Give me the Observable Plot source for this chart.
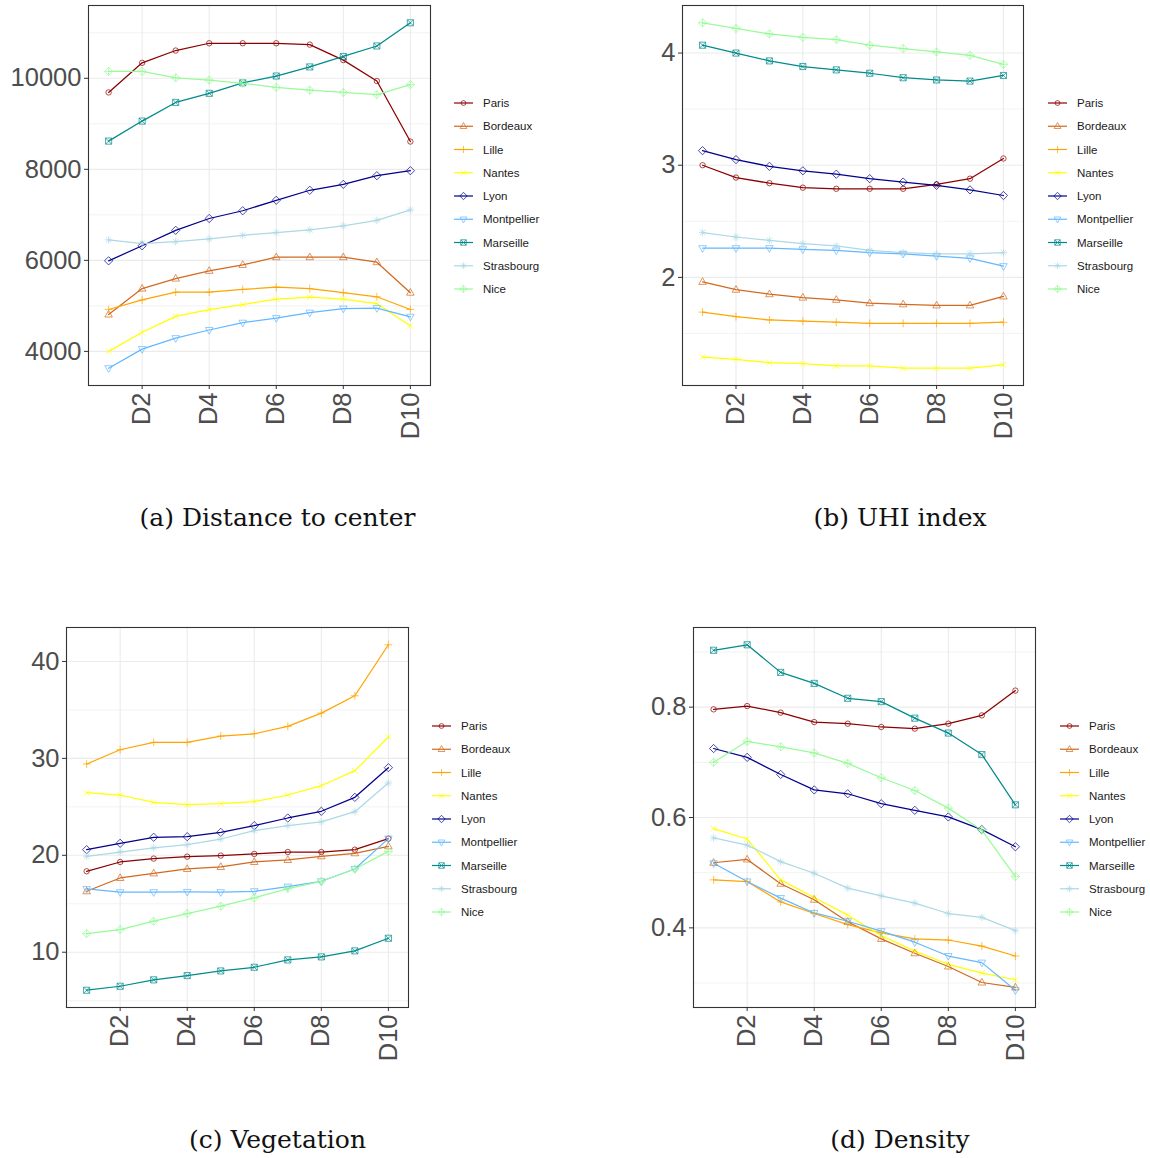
<!DOCTYPE html>
<html><head><meta charset="utf-8">
<script src="https://cdn.jsdelivr.net/npm/d3@7"></script>
<script src="https://cdn.jsdelivr.net/npm/@observablehq/plot@0.6"></script>
<style>
body{margin:0;background:#fff;}
#root{position:relative;width:1150px;height:1158px;overflow:hidden;background:#fff;}
#root > svg{position:absolute;}
#root > .cap{position:absolute;font-family:"DejaVu Serif","Liberation Serif",serif;font-size:25px;color:#111;white-space:nowrap;transform:translateX(-50%);line-height:1;}
</style></head><body><div id="root"></div>
<script>
// ---- data ----
const cities = ["Paris","Bordeaux","Lille","Nantes","Lyon","Montpellier","Marseille","Strasbourg","Nice"];
const cityColors = ["#8b0000","#d2691e","#ffa500","#ffff00","#00008b","#63b8ff","#008b8b","#add8e6","#98fb98"];
const deciles = ["D1","D2","D3","D4","D5","D6","D7","D8","D9","D10"];
const xTickDeciles = [2,4,6,8,10];

// rows follow the order of `cities`
const distance = [
  [9690,10340,10610,10770,10770,10770,10740,10400,9940,8610],
  [4810,5380,5600,5770,5900,6070,6070,6070,5960,5290],
  [4920,5130,5300,5300,5360,5410,5380,5290,5200,4920],
  [4000,4420,4770,4920,5030,5150,5190,5150,5050,4560],
  [5990,6320,6660,6920,7090,7320,7540,7670,7860,7970],
  [3630,4050,4290,4470,4630,4730,4850,4940,4950,4760],
  [8620,9060,9470,9670,9900,10050,10250,10480,10710,11220],
  [6450,6370,6410,6470,6550,6610,6670,6760,6880,7110],
  [10150,10150,10010,9960,9890,9800,9740,9690,9640,9860]
];
const uhi = [
  [3.00,2.89,2.84,2.80,2.79,2.79,2.79,2.83,2.88,3.06],
  [1.96,1.89,1.85,1.82,1.80,1.77,1.76,1.75,1.75,1.83],
  [1.69,1.65,1.62,1.61,1.60,1.59,1.59,1.59,1.59,1.60],
  [1.29,1.27,1.24,1.23,1.21,1.21,1.19,1.19,1.19,1.22],
  [3.13,3.05,2.99,2.95,2.92,2.88,2.85,2.82,2.78,2.73],
  [2.26,2.26,2.26,2.25,2.24,2.22,2.21,2.19,2.17,2.10],
  [4.07,4.00,3.93,3.88,3.85,3.82,3.78,3.76,3.75,3.80],
  [2.40,2.36,2.33,2.30,2.28,2.24,2.22,2.21,2.21,2.22],
  [4.27,4.22,4.17,4.14,4.12,4.07,4.04,4.01,3.98,3.90]
];
const vegetation = [
  [18.35,19.31,19.66,19.86,19.97,20.14,20.34,20.34,20.58,21.72],
  [16.29,17.66,18.14,18.59,18.80,19.31,19.52,19.90,20.21,20.93],
  [29.42,30.89,31.65,31.65,32.30,32.54,33.30,34.67,36.46,41.72],
  [26.46,26.22,25.46,25.22,25.33,25.53,26.22,27.18,28.73,32.20],
  [20.58,21.24,21.86,21.92,22.37,23.06,23.85,24.54,25.98,29.04],
  [16.53,16.19,16.19,16.22,16.19,16.29,16.77,17.32,18.59,21.72],
  [6.08,6.49,7.15,7.59,8.07,8.45,9.21,9.52,10.14,11.44],
  [19.90,20.34,20.76,21.10,21.68,22.54,23.06,23.44,24.50,27.46],
  [11.92,12.34,13.20,13.99,14.75,15.60,16.56,17.32,18.59,20.41]
];
const density = [
  [0.796,0.802,0.790,0.773,0.770,0.764,0.761,0.770,0.785,0.830],
  [0.518,0.524,0.480,0.451,0.411,0.380,0.354,0.330,0.301,0.292],
  [0.487,0.484,0.447,0.426,0.406,0.391,0.380,0.378,0.367,0.349],
  [0.580,0.561,0.487,0.455,0.423,0.386,0.358,0.334,0.318,0.306],
  [0.725,0.709,0.678,0.650,0.643,0.625,0.613,0.601,0.578,0.547],
  [0.517,0.484,0.454,0.427,0.412,0.394,0.374,0.349,0.337,0.287],
  [0.903,0.913,0.863,0.843,0.816,0.810,0.780,0.753,0.714,0.623],
  [0.563,0.550,0.520,0.499,0.472,0.458,0.445,0.426,0.419,0.395],
  [0.700,0.738,0.728,0.717,0.698,0.672,0.649,0.617,0.577,0.493]
];
const distanceTicks = [4000,6000,8000,10000], distanceMinor = [5000,7000,9000,11000];
const uhiTicks = [2,3,4], uhiMinor = [1.5,2.5,3.5];
const vegetationTicks = [10,20,30,40], vegetationMinor = [5,15,25,35];
const densityTicks = [0.4,0.6,0.8], densityMinor = [0.3,0.5,0.7,0.9];
const captions = ["(a) Distance to center","(b) UHI index","(c) Vegetation","(d) Density"];

// ---- R-like point shapes (pch 1..9) ----
function pch(kind){
  return {draw(c, size){
    const s = Math.sqrt(size/Math.PI);
    const seg=(x1,y1,x2,y2)=>{c.moveTo(x1,y1);c.lineTo(x2,y2);};
    switch(kind){
      case 1: c.moveTo(s*0.75,0); c.arc(0,0,s*0.75,0,2*Math.PI); break;
      case 2: c.moveTo(0,-s*1.15); c.lineTo(s*1.05,s*0.7); c.lineTo(-s*1.05,s*0.7); c.closePath(); break;
      case 3: seg(-s*1.1,0,s*1.1,0); seg(0,-s*1.1,0,s*1.1); break;
      case 4: seg(-s*0.8,-s*0.8,s*0.8,s*0.8); seg(-s*0.8,s*0.8,s*0.8,-s*0.8); break;
      case 5: c.moveTo(0,-s*1.15); c.lineTo(s*1.15,0); c.lineTo(0,s*1.15); c.lineTo(-s*1.15,0); c.closePath(); break;
      case 6: c.moveTo(0,s*1.15); c.lineTo(s*1.05,-s*0.7); c.lineTo(-s*1.05,-s*0.7); c.closePath(); break;
      case 7: c.moveTo(-s*0.85,-s*0.85); c.lineTo(s*0.85,-s*0.85); c.lineTo(s*0.85,s*0.85); c.lineTo(-s*0.85,s*0.85); c.closePath();
              seg(-s*0.85,-s*0.85,s*0.85,s*0.85); seg(-s*0.85,s*0.85,s*0.85,-s*0.85); break;
      case 8: seg(-s*1.05,0,s*1.05,0); seg(0,-s*1.05,0,s*1.05); seg(-s*0.75,-s*0.75,s*0.75,s*0.75); seg(-s*0.75,s*0.75,s*0.75,-s*0.75); break;
      case 9: c.moveTo(0,-s*1.15); c.lineTo(s*1.15,0); c.lineTo(0,s*1.15); c.lineTo(-s*1.15,0); c.closePath();
              seg(-s*1.15,0,s*1.15,0); seg(0,-s*1.15,0,s*1.15); break;
    }
  }};
}
const shapes = cities.map((_, i) => pch(i + 1));

const root = document.getElementById("root");

function panel(values, major, minor, pos){
  const rows = [];
  values.forEach((arr, ci) => arr.forEach((v, di) => rows.push({city: cities[ci], d: di + 1, v})));
  const [lo, hi] = d3.extent(rows, r => r.v);
  const pad = (hi - lo) * 0.05;
  const marks = [
    Plot.gridX({ticks: xTickDeciles, stroke: "#ebebeb", strokeOpacity: 1, strokeWidth: 1.1}),
    Plot.gridY({ticks: minor, stroke: "#ebebeb", strokeOpacity: 1, strokeWidth: 0.6}),
    Plot.gridY({ticks: major, stroke: "#ebebeb", strokeOpacity: 1, strokeWidth: 1.1}),
    Plot.line(rows, {x: "d", y: "v", z: "city", stroke: "city", strokeWidth: 1.25}),
    ...cities.map((c, i) => Plot.dot(rows.filter(r => r.city === c), {x: "d", y: "v", r: 3.6, symbol: shapes[i], stroke: cityColors[i], fill: "none", strokeWidth: 1, strokeOpacity: 0.7})),
    Plot.frame({stroke: "#333333", strokeWidth: 1.1}),
    Plot.axisY({ticks: major, tickFormat: d => String(d), tickSize: 4, tickPadding: 3, stroke: "#333333", fill: "#4d4d4d", label: null}),
    Plot.axisX({ticks: xTickDeciles, tickFormat: d => deciles[d - 1], tickRotate: -90, tickSize: 4, tickPadding: 3, stroke: "#333333", fill: "#4d4d4d", label: null})
  ];
  const svg = Plot.plot({
    width: pos.width, height: pos.height,
    marginLeft: pos.ml, marginRight: 10, marginTop: pos.mt, marginBottom: 65,
    style: {fontFamily: "'Liberation Sans', Arial, sans-serif", fontSize: "25.5px", background: "transparent", overflow: "visible"},
    x: {type: "linear", domain: [0.4, 10.6]},
    y: {domain: [lo - pad, hi + pad]},
    color: {domain: cities, range: cityColors},
    marks
  });
  svg.style.left = pos.left + "px";
  svg.style.top = pos.top + "px";
  root.appendChild(svg);
}

panel(distance, distanceTicks, distanceMinor, {left: 0, top: 0, width: 440, height: 450, ml: 88, mt: 5});
panel(uhi, uhiTicks, uhiMinor, {left: 590, top: 0, width: 443, height: 450, ml: 92, mt: 5});
panel(vegetation, vegetationTicks, vegetationMinor, {left: 0, top: 620, width: 418, height: 452, ml: 66, mt: 7});
panel(density, densityTicks, densityMinor, {left: 590, top: 620, width: 455, height: 452, ml: 103, mt: 7});

// ---- legends ----
function legend(x, y){
  const svg = d3.create("svg").attr("width", 120).attr("height", 210)
    .style("left", x + "px").style("top", (y - 10) + "px");
  cities.forEach((c, i) => {
    const g = svg.append("g").attr("transform", `translate(0,${10 + i * 23.25})`);
    g.append("line").attr("x1", 0).attr("x2", 19).attr("stroke", cityColors[i]).attr("stroke-width", 1.2);
    g.append("path").attr("transform", "translate(9.5,0)")
      .attr("d", d3.symbol(shapes[i], 3.2 * 3.2 * Math.PI)())
      .attr("fill", "none").attr("stroke", cityColors[i]).attr("stroke-opacity", 0.7);
    g.append("text").attr("x", 29).attr("dy", "0.35em").text(c)
      .attr("font-family", "'Liberation Sans', Arial, sans-serif").attr("font-size", 11.5).attr("fill", "#1a1a1a");
  });
  root.appendChild(svg.node());
}
legend(454, 103.3);
legend(1048, 103.3);
legend(432, 725.7);
legend(1060, 725.7);

// ---- captions ----
[[277.5, 505], [900, 505], [277.5, 1127], [900, 1127]].forEach(([x, y], i) => {
  const d = document.createElement("div");
  d.className = "cap"; d.textContent = captions[i];
  d.style.left = x + "px"; d.style.top = y + "px";
  root.appendChild(d);
});
</script></body></html>
